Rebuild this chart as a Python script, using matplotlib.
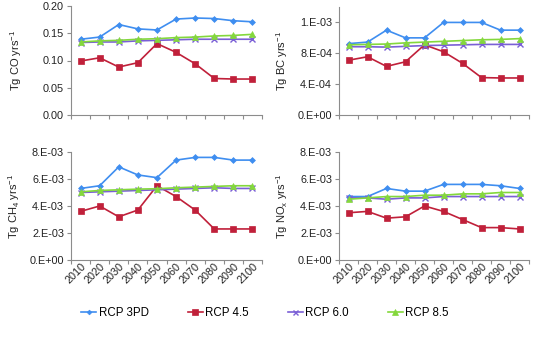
import matplotlib
matplotlib.use("Agg")
import matplotlib.pyplot as plt
import numpy as np
from matplotlib.ticker import FuncFormatter

plt.rcParams['font.family'] = ['Liberation Sans', 'DejaVu Sans']
plt.rcParams['mathtext.default'] = 'regular'

years = ['2010', '2020', '2030', '2040', '2050', '2060', '2070', '2080', '2090', '2100']
series_names = ['RCP 3PD', 'RCP 4.5', 'RCP 6.0', 'RCP 8.5']

co_3pd = [0.139, 0.143, 0.166, 0.158, 0.156, 0.176, 0.178, 0.177, 0.173, 0.171]
co_45 = [0.099, 0.105, 0.088, 0.096, 0.131, 0.115, 0.094, 0.067, 0.066, 0.066]
co_60 = [0.133, 0.134, 0.134, 0.136, 0.137, 0.138, 0.139, 0.139, 0.139, 0.139]
co_85 = [0.134, 0.136, 0.137, 0.139, 0.140, 0.142, 0.143, 0.145, 0.146, 0.148]

bc_3pd = [9.25e-4, 9.45e-4, 1.10e-3, 1.0e-3, 1.0e-3, 1.2e-3, 1.2e-3, 1.2e-3, 1.1e-3, 1.1e-3]
bc_45 = [7.1e-4, 7.55e-4, 6.3e-4, 6.9e-4, 9.1e-4, 8.2e-4, 6.7e-4, 4.85e-4, 4.8e-4, 4.8e-4]
bc_60 = [8.85e-4, 8.85e-4, 8.8e-4, 8.9e-4, 9.0e-4, 9.05e-4, 9.1e-4, 9.15e-4, 9.15e-4, 9.15e-4]
bc_85 = [9.1e-4, 9.15e-4, 9.2e-4, 9.35e-4, 9.45e-4, 9.55e-4, 9.65e-4, 9.75e-4, 9.8e-4, 9.9e-4]

ch4_3pd = [5.3e-3, 5.5e-3, 6.9e-3, 6.3e-3, 6.1e-3, 7.4e-3, 7.6e-3, 7.6e-3, 7.4e-3, 7.4e-3]
ch4_45 = [3.6e-3, 4.0e-3, 3.2e-3, 3.7e-3, 5.5e-3, 4.7e-3, 3.7e-3, 2.3e-3, 2.3e-3, 2.3e-3]
ch4_60 = [5.0e-3, 5.05e-3, 5.1e-3, 5.15e-3, 5.2e-3, 5.25e-3, 5.3e-3, 5.35e-3, 5.3e-3, 5.3e-3]
ch4_85 = [5.05e-3, 5.15e-3, 5.2e-3, 5.25e-3, 5.28e-3, 5.35e-3, 5.4e-3, 5.45e-3, 5.5e-3, 5.5e-3]

nox_3pd = [4.7e-3, 4.7e-3, 5.3e-3, 5.1e-3, 5.1e-3, 5.6e-3, 5.6e-3, 5.6e-3, 5.5e-3, 5.3e-3]
nox_45 = [3.5e-3, 3.6e-3, 3.1e-3, 3.2e-3, 4.0e-3, 3.6e-3, 3.0e-3, 2.4e-3, 2.4e-3, 2.3e-3]
nox_60 = [4.6e-3, 4.6e-3, 4.5e-3, 4.6e-3, 4.6e-3, 4.7e-3, 4.7e-3, 4.7e-3, 4.7e-3, 4.7e-3]
nox_85 = [4.5e-3, 4.6e-3, 4.7e-3, 4.7e-3, 4.8e-3, 4.8e-3, 4.9e-3, 4.9e-3, 5.0e-3, 5.0e-3]

colors = ['#3f8ef0', '#c0203a', '#7a5fd6', '#84d83c']
markers = ['D', 's', 'x', '^']
msizes = [3, 5, 4.5, 5]

fig = plt.figure(figsize=(5.43, 3.37), dpi=100)

panels = [
    ([71, 6, 191, 109], [co_3pd, co_45, co_60, co_85], 'Tg CO yrs$^{-1}$',
     (0, 0.2), np.arange(0, 0.21, 0.05), lambda v, p: f"{v:.2f}", False, -0.245),
    ([339, 7, 190, 108], [bc_3pd, bc_45, bc_60, bc_85], 'Tg BC yrs$^{-1}$',
     (0, 1.4e-3), [0, 4e-4, 8e-4, 1.2e-3], lambda v, p: f"{v:#.0E}", False, -0.26),
    ([71, 152, 191, 108], [ch4_3pd, ch4_45, ch4_60, ch4_85], 'Tg CH$_4$ yrs$^{-1}$',
     (0, 8e-3), [0, 2e-3, 4e-3, 6e-3, 8e-3], lambda v, p: f"{v:#.0E}", True, -0.255),
    ([339, 152, 190, 108], [nox_3pd, nox_45, nox_60, nox_85], 'Tg NO$_x$ yrs$^{-1}$',
     (0, 8e-3), [0, 2e-3, 4e-3, 6e-3, 8e-3], lambda v, p: f"{v:#.0E}", True, -0.26),
]

W, H = 543, 337
x = np.arange(len(years))
for (px, py, pw, ph), data, ylab, ylim, yt, fmt, show_x, lx in panels:
    ax = fig.add_axes([px / W, 1 - (py + ph) / H, pw / W, ph / H])
    for vals, c, m, ms, name in zip(data, colors, markers, msizes, series_names):
        ax.plot(x, vals, color=c, marker=m, markersize=ms, linewidth=1.2,
                markeredgewidth=1 if m == 'x' else 0.5, label=name, clip_on=False)
    ax.set_xlim(-0.5, len(years) - 0.5)
    ax.set_ylim(*ylim)
    ax.set_yticks(yt)
    ax.yaxis.set_major_formatter(FuncFormatter(fmt))
    for s in ['top', 'right']:
        ax.spines[s].set_visible(False)
    for s in ['left', 'bottom']:
        ax.spines[s].set_color('#8c8c8c')
        ax.spines[s].set_linewidth(0.8)
    ax.set_xticks(np.arange(-0.5, len(years), 1.0))
    ax.set_xticklabels([])
    ax.set_xticks(x, minor=True)
    ax.tick_params(axis='x', which='major', length=3, color='#8c8c8c')
    ax.tick_params(axis='x', which='minor', length=0, labelsize=7.8, pad=1)
    ax.tick_params(axis='y', length=3, color='#8c8c8c', labelsize=7.8, labelcolor='#222222', pad=2)
    if show_x:
        ax.set_xticklabels(years, minor=True, rotation=45, ha='right', va='top',
                           rotation_mode='anchor', color='#222222')
    ax.set_ylabel(ylab, fontsize=8, color='#222222')
    ax.yaxis.set_label_coords(lx, 0.5)

handles, labels = ax.get_legend_handles_labels()
fig.legend(handles, labels, loc='center', bbox_to_anchor=(0.488, 0.072), ncol=4,
           frameon=False, fontsize=8.3, handlelength=1.3, handletextpad=0.2,
           columnspacing=3.4, markerscale=0.8)

fig.savefig('out.png', dpi=100)
